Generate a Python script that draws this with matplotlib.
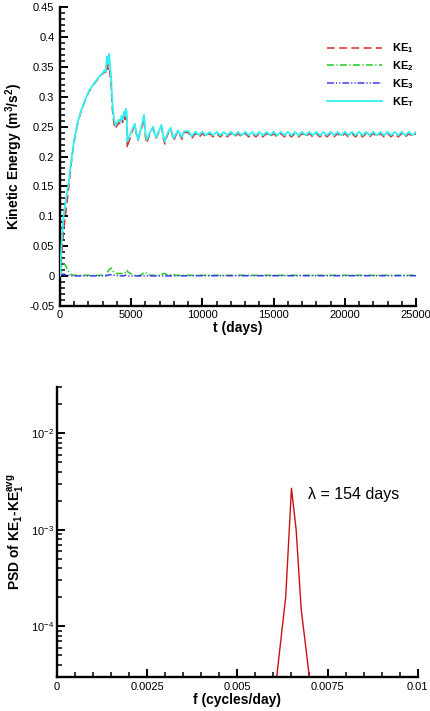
import matplotlib
matplotlib.use('Agg')
import matplotlib.pyplot as plt
from matplotlib.ticker import MultipleLocator, FixedLocator, FuncFormatter, LogLocator, NullFormatter

plt.rcParams['font.family'] = ['Liberation Sans', 'DejaVu Sans']
plt.rcParams['mathtext.fontset'] = 'custom'
plt.rcParams['mathtext.rm'] = 'Liberation Sans'
plt.rcParams['mathtext.bf'] = 'Liberation Sans:bold'
plt.rcParams['mathtext.it'] = 'Liberation Sans:italic'
plt.rcParams['axes.unicode_minus'] = False

# ---------------- data: kinetic energy time series ----------------
t_early = [0, 100, 250, 400, 600, 800, 1000, 1250, 1500, 1750, 2000, 2250, 2500, 2750,
           3000, 3150, 3220, 3300, 3380, 3450, 3520, 3600, 3650, 3720, 3800, 3900, 3980,
           4050, 4150, 4250, 4320, 4400, 4500, 4560, 4620, 4680, 4730, 4800, 4950, 5100,
           5250, 5350, 5480, 5600, 5750, 5900, 6000, 6080, 6200, 6350, 6540, 6650, 6750,
           6900, 7120, 7250, 7360, 7500, 7620, 7780, 7900, 7980, 8150, 8300, 8450, 8570,
           8700]
keT_early = [0.000, 0.050, 0.100, 0.125, 0.155, 0.195, 0.228, 0.258, 0.278, 0.294, 0.308,
             0.318, 0.326, 0.334, 0.340, 0.345, 0.342, 0.368, 0.355, 0.372, 0.350, 0.330,
             0.300, 0.278, 0.262, 0.252, 0.256, 0.258, 0.262, 0.258, 0.268, 0.262, 0.275,
             0.268, 0.280, 0.275, 0.225, 0.230, 0.238, 0.247, 0.255, 0.240, 0.228, 0.240,
             0.252, 0.270, 0.240, 0.228, 0.234, 0.242, 0.250, 0.238, 0.232, 0.240, 0.253,
             0.236, 0.225, 0.236, 0.242, 0.248, 0.236, 0.230, 0.238, 0.244, 0.236, 0.232,
             0.242]
ke1_early = [0.000, 0.030, 0.075, 0.105, 0.145, 0.190, 0.226, 0.257, 0.277, 0.293, 0.307,
             0.317, 0.325, 0.333, 0.339, 0.343, 0.339, 0.362, 0.346, 0.360, 0.336, 0.315,
             0.287, 0.268, 0.254, 0.246, 0.251, 0.253, 0.257, 0.254, 0.263, 0.257, 0.270,
             0.262, 0.271, 0.264, 0.214, 0.222, 0.233, 0.244, 0.253, 0.239, 0.227, 0.238,
             0.249, 0.263, 0.233, 0.222, 0.231, 0.240, 0.248, 0.237, 0.231, 0.238, 0.250,
             0.231, 0.221, 0.233, 0.240, 0.246, 0.234, 0.226, 0.236, 0.242, 0.234, 0.229,
             0.240]
ke2_early = [0.000, 0.016, 0.021, 0.017, 0.008, 0.002, 0.001, 0.001, 0.001, 0.001, 0.001,
             0.001, 0.001, 0.001, 0.001, 0.001, 0.001, 0.004, 0.008, 0.010, 0.012, 0.013,
             0.011, 0.008, 0.006, 0.005, 0.004, 0.004, 0.004, 0.004, 0.004, 0.004, 0.004,
             0.005, 0.008, 0.010, 0.008, 0.006, 0.004, 0.002, 0.001, 0.000, 0.000, 0.001,
             0.002, 0.006, 0.006, 0.004, 0.002, 0.001, 0.001, 0.001, 0.001, 0.001, 0.002,
             0.004, 0.004, 0.002, 0.001, 0.002, 0.002, 0.002, 0.001, 0.001, 0.001, 0.001,
             0.001]
ke3_early = [0.000, 0.002, 0.003, 0.002, 0.001, 0.000, 0.000, 0.000, 0.000, 0.000, 0.000,
             0.000, 0.000, 0.000, 0.000, 0.000, 0.000, 0.001, 0.001, 0.002, 0.002, 0.002,
             0.002, 0.002, 0.001, 0.001, 0.001, 0.000, 0.000, 0.000, 0.000, 0.000, 0.000,
             0.001, 0.001, 0.001, 0.001, 0.000, 0.000, 0.000, 0.000, 0.000, 0.000, 0.000,
             0.000, 0.000, 0.000, 0.000, 0.000, 0.000, 0.000, 0.000, 0.000, 0.000, 0.000,
             0.000, 0.000, 0.000, 0.000, 0.000, 0.000, 0.000, 0.000, 0.000, 0.000, 0.000,
             0.000]

t_late = [9000, 9250, 9500, 9750, 10000, 10250, 10500, 10750, 11000, 11250, 11500, 11750,
          12000, 12250, 12500, 12750, 13000, 13250, 13500, 13750, 14000, 14250, 14500,
          14750, 15000, 15250, 15500, 15750, 16000, 16250, 16500, 16750, 17000, 17250,
          17500, 17750, 18000, 18250, 18500, 18750, 19000, 19250, 19500, 19750, 20000,
          20250, 20500, 20750, 21000, 21250, 21500, 21750, 22000, 22250, 22500, 22750,
          23000, 23250, 23500, 23750, 24000, 24250, 24500, 24750, 25000]
keT_late = [0.2430, 0.2340, 0.2415, 0.2360, 0.2412, 0.2355, 0.2410, 0.2356, 0.2413, 0.2354,
            0.2411, 0.2357, 0.2412, 0.2354, 0.2410, 0.2356, 0.2413, 0.2355, 0.2411, 0.2354,
            0.2412, 0.2356, 0.2410, 0.2355, 0.2413, 0.2354, 0.2411, 0.2356, 0.2412, 0.2355,
            0.2410, 0.2354, 0.2413, 0.2356, 0.2411, 0.2355, 0.2412, 0.2354, 0.2410, 0.2356,
            0.2413, 0.2355, 0.2411, 0.2354, 0.2412, 0.2356, 0.2410, 0.2355, 0.2413, 0.2354,
            0.2411, 0.2356, 0.2412, 0.2355, 0.2410, 0.2354, 0.2413, 0.2356, 0.2411, 0.2355,
            0.2412, 0.2354, 0.2410, 0.2356, 0.2412]
ke1_late = [0.2405, 0.2300, 0.2385, 0.2320, 0.2385, 0.2328, 0.2384, 0.2331, 0.2386, 0.2329,
            0.2385, 0.2332, 0.2386, 0.2329, 0.2384, 0.2331, 0.2386, 0.2330, 0.2385, 0.2329,
            0.2386, 0.2331, 0.2384, 0.2330, 0.2386, 0.2329, 0.2385, 0.2331, 0.2386, 0.2330,
            0.2384, 0.2329, 0.2386, 0.2331, 0.2385, 0.2330, 0.2386, 0.2329, 0.2384, 0.2331,
            0.2386, 0.2330, 0.2385, 0.2329, 0.2386, 0.2331, 0.2384, 0.2330, 0.2386, 0.2329,
            0.2385, 0.2331, 0.2386, 0.2330, 0.2384, 0.2329, 0.2386, 0.2331, 0.2385, 0.2330,
            0.2386, 0.2329, 0.2384, 0.2331, 0.2386]
t_flat = [9000, 25000]
ke2_flat = [0.001, 0.001]
ke3_flat = [0.0003, 0.0003]

# ---------------- data: power spectral density ----------------
f_cpd = [0.00600, 0.00634, 0.00650, 0.00663, 0.00677, 0.00715]
psd_ke1 = [1.5e-5, 2.0e-4, 2.7e-3, 1.0e-3, 1.5e-4, 1.0e-5]

series_labels = [r'$\mathbf{KE}_\mathbf{1}$', r'$\mathbf{KE}_\mathbf{2}$',
                 r'$\mathbf{KE}_\mathbf{3}$', r'$\mathbf{KE}_\mathbf{T}$']

fig = plt.figure(figsize=(4.3, 7.11), dpi=100)
ax1 = fig.add_axes([0.1395, 0.570, 0.828, 0.4197])
ax2 = fig.add_axes([0.1326, 0.0482, 0.8388, 0.407])


def style(ax, xpad, ypad):
    for s in ('top', 'right'):
        ax.spines[s].set_visible(False)
    for s in ('left', 'bottom'):
        ax.spines[s].set_linewidth(1.7)
    ax.tick_params(which='major', direction='in', length=6, width=1.4, labelsize=8,
                   top=False, right=False)
    ax.tick_params(which='minor', direction='in', length=3.5, width=1.1,
                   top=False, right=False)
    ax.tick_params(axis='x', which='major', pad=xpad)
    ax.tick_params(axis='y', which='major', pad=ypad)


fmt = FuncFormatter(lambda v, p: '%g' % round(v, 6))

# ---- top panel ----
ax1.plot(t_early + t_late, ke1_early + ke1_late, color='#dd2a2a', lw=1.1,
         linestyle=(0, (5, 3)), label=series_labels[0], zorder=2)
ax1.plot(t_early + t_flat, ke2_early + ke2_flat, color='#22cc22', lw=1.1,
         linestyle=(0, (4.5, 1.6, 0.8, 1.6)), label=series_labels[1], zorder=3)
ax1.plot(t_early + t_flat, ke3_early + ke3_flat, color='#3a3aee', lw=1.1,
         linestyle=(0, (4.5, 1.3, 0.8, 1.3, 0.8, 1.3)), label=series_labels[2], zorder=4)
ax1.plot(t_early + t_late, keT_early + keT_late, color='#2ef0f0', lw=1.3,
         linestyle='-', label=series_labels[3], zorder=5)

ax1.set_xlim(0, 25000)
ax1.set_ylim(-0.05, 0.45)
ax1.xaxis.set_major_locator(MultipleLocator(5000))
ax1.xaxis.set_minor_locator(MultipleLocator(1000))
ax1.yaxis.set_major_locator(MultipleLocator(0.05))
ax1.yaxis.set_minor_locator(MultipleLocator(0.01))
ax1.yaxis.set_major_formatter(fmt)
ax1.xaxis.set_major_formatter(fmt)
style(ax1, 3, 4)
ax1.set_xlabel('t (days)', fontsize=10, fontweight='bold', labelpad=1)
ax1.set_ylabel(r'Kinetic Energy (m$^\mathbf{3}$/s$^\mathbf{2}$)', fontsize=10,
               fontweight='bold')
ax1.yaxis.set_label_coords(-0.097, 0.5)
leg = ax1.legend(loc='upper right', bbox_to_anchor=(0.995, 0.885), frameon=False,
                 prop={'size': 8, 'weight': 'bold'}, handlelength=5.0,
                 handletextpad=0.9, labelspacing=0.35, borderpad=0, borderaxespad=0)

# ---- bottom panel ----
ax2.plot(f_cpd, psd_ke1, color='#cc1111', lw=1.0)
ax2.set_yscale('log')
ax2.set_xlim(0, 0.01)
ax2.set_ylim(3e-5, 0.03)
ax2.xaxis.set_major_locator(FixedLocator([0, 0.0025, 0.005, 0.0075, 0.01]))
ax2.xaxis.set_minor_locator(MultipleLocator(0.0005))
ax2.xaxis.set_major_formatter(fmt)
ax2.yaxis.set_major_locator(LogLocator(base=10))
ax2.yaxis.set_minor_locator(LogLocator(base=10, subs=range(2, 10)))
ax2.yaxis.set_minor_formatter(NullFormatter())
style(ax2, 3.5, 2)
ax2.set_xlabel('f (cycles/day)', fontsize=10, fontweight='bold', labelpad=1)
ax2.set_ylabel(r'PSD of KE$_\mathbf{1}$-KE$_\mathbf{1}^\mathbf{avg}$', fontsize=10,
               fontweight='bold')
ax2.yaxis.set_label_coords(-0.083, 0.5)
ax2.text(0.00696, 0.0023, 'λ = 154 days', fontsize=11.5, va='center', ha='left')

fig.savefig('out.png', dpi=100)
